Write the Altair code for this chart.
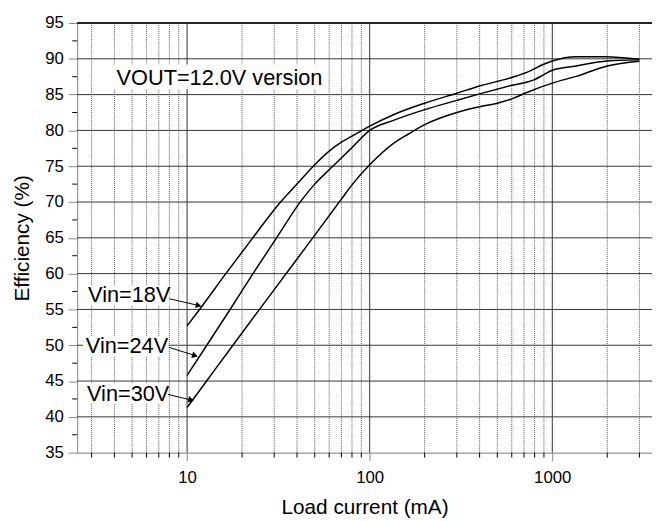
import altair as alt
import pandas as pd

# ---- data ----
cur_18 = [10, 11.7, 16.3, 22.9, 32.5, 40, 50, 60, 70, 80, 90, 100, 138, 200, 300, 400, 600, 725, 890, 1000, 1350, 1950, 3000]
eff_18 = [52.7, 55.0, 60.0, 65.0, 70.0, 72.5, 75.2, 77.1, 78.35, 79.2, 79.95, 80.6, 82.3, 83.8, 85.2, 86.2, 87.4, 88.1, 89.2, 89.7, 90.3, 90.3, 89.95]

cur_24 = [10, 12.9, 17.3, 23.1, 30.9, 42.2, 50, 60, 80, 100, 135, 200, 300, 400, 600, 800, 900, 1000, 1350, 2000, 3000]
eff_24 = [45.8, 50.1, 55.1, 60.1, 65.0, 70.2, 72.5, 74.5, 77.6, 80.0, 81.4, 82.9, 84.2, 85.1, 86.3, 87.1, 87.8, 88.4, 89.0, 89.7, 89.85]

cur_30 = [10, 12.7, 17.7, 24.4, 34.3, 48.8, 56.5, 70, 80, 100, 135, 163, 200, 300, 400, 500, 600, 725, 1000, 1350, 2000, 3000]
eff_30 = [41.3, 44.9, 49.9, 54.7, 59.75, 65.0, 67.2, 70.4, 72.4, 75.2, 78.2, 79.5, 80.8, 82.5, 83.3, 83.8, 84.4, 85.3, 86.6, 87.55, 89.0, 89.65]

series_names = ["Vin=18V", "Vin=24V", "Vin=30V"]

y_ticks = list(range(35, 100, 5))
y_minor = [37.5 + 5 * i for i in range(12)]
x_major = [10, 100, 1000]
x_minor = [3, 4, 5, 6, 7, 8, 9, 20, 30, 40, 50, 60, 70, 80, 90,
           200, 300, 400, 500, 600, 700, 800, 900, 2000, 3000]
y_top = [95]

# annotations (label text, anchor x in mA, baseline y in %)
ann_text = ["Vin=18V", "Vin=24V", "Vin=30V", "VOUT=12.0V version"]
ann_x = [2.87, 2.79, 2.83, 4.11]
ann_y = [55.97, 48.93, 42.21, 86.3]
box_x1 = [2.69, 2.69, 2.69, 3.96]
box_x2 = [8.0, 7.9, 7.85, 54.1]
box_y1 = [55.6, 48.5, 41.8, 85.8]
box_y2 = [58.3, 51.3, 44.7, 89.2]

arrow_x1 = [8.03, 7.93, 7.86]
arrow_y1 = [56.48, 49.72, 43.14]
arrow_x2 = [11.57, 11.05, 10.52]
arrow_y2 = [55.55, 48.56, 42.35]
arrow_ang = [13, 17, 14]

# ---- tables ----
lines_df = pd.concat([
    pd.DataFrame({"cur": c, "eff": e, "series": s})
    for c, e, s in zip([cur_18, cur_24, cur_30], [eff_18, eff_24, eff_30], series_names)
])
ann_df = pd.DataFrame({"t": ann_text, "x": ann_x, "y": ann_y,
                       "bx1": box_x1, "bx2": box_x2, "by1": box_y1, "by2": box_y2})
arr_df = pd.DataFrame({"x1": arrow_x1, "y1": arrow_y1, "x2": arrow_x2, "y2": arrow_y2,
                       "ang": arrow_ang})

FONT = "Liberation Sans"
xs = alt.Scale(type="log", domain=[2.5, 3516], nice=False)
ys = alt.Scale(domain=[35, 95], nice=False, zero=False)

xaxis = alt.Axis(values=x_major, format="d", title="Load current (mA)",
                 grid=False, tickSize=8, labelPadding=9, titlePadding=12,
                 labelFontSize=17, titleFontSize=21, labelFlush=False,
                 titleFontWeight="normal", labelFont=FONT, titleFont=FONT)
yaxis = alt.Axis(values=y_ticks, title="Efficiency (%)", grid=False,
                 tickSize=9, labelPadding=5, titlePadding=12,
                 labelFontSize=17, titleFontSize=21,
                 titleFontWeight="normal", labelFont=FONT, titleFont=FONT)


def X(f):
    return alt.X(f, scale=xs, axis=xaxis)


def Y(f):
    return alt.Y(f, scale=ys, axis=yaxis)


hgrid = alt.Chart(pd.DataFrame({"v": y_ticks[1:-1]})).mark_rule(
    color="#333", strokeWidth=1).encode(y=Y("v:Q"))

top_border = alt.Chart(pd.DataFrame({"v": y_top})).mark_rule(
    color="#222", strokeWidth=2).encode(y=Y("v:Q"))

vminor = alt.Chart(pd.DataFrame({"v": x_minor})).mark_rule(
    color="#555", strokeWidth=1, strokeDash=[1, 1]).encode(x=X("v:Q"))

vmajor = alt.Chart(pd.DataFrame({"v": x_major})).mark_rule(
    color="#333", strokeWidth=1).encode(x=X("v:Q"))

xminor_ticks = alt.Chart(pd.DataFrame({"v": x_minor})).mark_rule(
    color="#000", strokeWidth=1).encode(x=X("v:Q"), y=alt.value(435), y2=alt.value(440))

yminor_ticks = alt.Chart(pd.DataFrame({"v": y_minor})).mark_rule(
    color="#000", strokeWidth=1).encode(y=Y("v:Q"), x=alt.value(-5), x2=alt.value(0))

boxes = alt.Chart(ann_df).mark_rect(color="white").encode(
    x=X("bx1:Q"), x2="bx2:Q", y=Y("by1:Q"), y2="by2:Q")

texts = alt.Chart(ann_df).mark_text(
    align="left", baseline="alphabetic", fontSize=22, font=FONT, color="#000").encode(
    x=X("x:Q"), y=Y("y:Q"), text="t:N")

arrows = alt.Chart(arr_df).mark_rule(color="#000", strokeWidth=1).encode(
    x=X("x1:Q"), x2="x2:Q", y=Y("y1:Q"), y2="y2:Q")

heads = alt.Chart(arr_df).mark_point(
    shape="triangle-right", filled=True, color="#000", size=45, opacity=1).encode(
    x=X("x2:Q"), y=Y("y2:Q"), angle=alt.Angle("ang:Q", scale=None))

lines = alt.Chart(lines_df).mark_line(
    color="#000", strokeWidth=1.5, interpolate="monotone").encode(
    x=X("cur:Q"), y=Y("eff:Q"), detail="series:N")

chart = alt.layer(
    hgrid, vminor, vmajor, boxes, texts, arrows, heads, lines,
    xminor_ticks, yminor_ticks, top_border
).properties(
    width=582, height=435,
    autosize=alt.AutoSizeParams(type="none"),
    padding={"left": 70, "top": 12, "right": 0, "bottom": 66},
).configure_view(
    stroke=None
).configure_axis(
    labelColor="#000", titleColor="#000",
    domainColor="#000", tickColor="#000", domainWidth=1.2, tickWidth=1.2,
).configure(background="white")

chart.save("out.html", embed_options={"renderer": "svg", "actions": False})
